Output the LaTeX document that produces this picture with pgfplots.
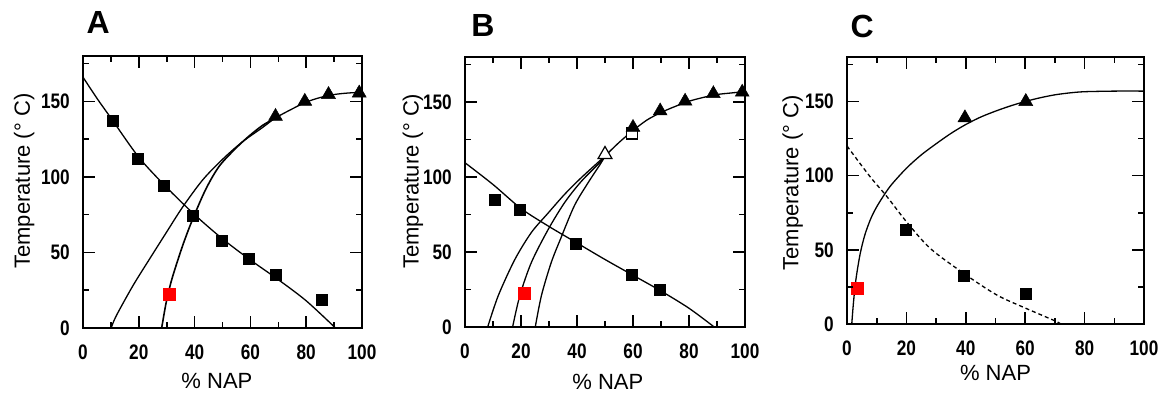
\documentclass[border=0pt]{standalone}
\usepackage{graphicx}
\usepackage{pgfplots}
\pgfplotsset{compat=1.18}
\usepackage{fontspec}
\setmainfont{Liberation Sans}
\newcommand{\tlfont}{\fontsize{21}{21}\selectfont\bfseries}
\newcommand{\lbfont}{\fontsize{22}{24}\selectfont}
\newcommand{\pnfont}{\fontsize{32}{32}\selectfont\bfseries}
\pgfplotsset{
  dataax/.style={
    scale only axis, anchor=south west, hide axis,
    xmin=0, xmax=100, ymin=0, ymax=180,
  },
  panel/.style={
    scale only axis, anchor=south west,
    xmin=0, xmax=100, ymin=0, ymax=180,
    xtick={0,20,...,100}, ytick={0,50,100,150},
    minor xtick={10,30,50,70,90}, minor ytick={25,75,125,175},
    tick align=inside, major tick length=12pt, minor tick length=6pt,
    tick style={black, line width=1.6pt}, axis line style={line width=1.6pt},
    xticklabel={\scalebox{0.82}[1]{\pgfmathprintnumber[assume math mode=true]{\tick}}},
    yticklabel={\scalebox{0.82}[1]{\pgfmathprintnumber[assume math mode=true]{\tick}}},
    ticklabel style={font=\tlfont},
    yticklabel style={inner sep=0pt, anchor=east, xshift=-13pt},
    xticklabel style={inner sep=0pt, anchor=north, yshift=-17pt},
    label style={font=\lbfont},
    xlabel={\% NAP}, ylabel={Temperature (° C)},
    title style={font=\pnfont, anchor=base west},
  },
  mycurve/.style={black, line width=1.3pt, smooth, tension=0.5, no marks},
  mysquare/.style={only marks, mark=square*, mark size=5.5pt, mark options={solid, fill=black, draw=black, line width=0.5pt}},
  mytriangle/.style={only marks, mark=triangle*, mark size=8pt, mark options={solid, fill=black, draw=black, line width=0.5pt}},
  myredsquare/.style={only marks, mark=square*, mark size=6pt, mark options={solid, fill=red, draw=red, line width=0.5pt}},
}
\begin{document}
\begin{tikzpicture}
\useasboundingbox (0pt,0pt) rectangle (1162pt,394pt);
% ---------------- Panel A data
\begin{axis}[dataax, at={(83pt,66pt)}, width=279pt, height=272pt]
\addplot[mycurve] coordinates {(0,166) (5,152) (10,139) (20,113) (30,93) (40,75) (50,59) (60,45) (70,32) (80,18) (90.5,0)};
\addplot[mycurve] coordinates {(10.1,0) (11.9,8) (17.9,28) (23.8,45.5) (29.8,63) (35.7,80) (42.9,98) (50,111.6) (57,123) (64.3,132.6) (69,139) (75,145) (80,149.5) (85,152.5) (90,154.5) (95,155.5) (100,156)};
\addplot[mycurve, line width=1.6pt] coordinates {(28.2,0) (29.8,16.8) (31.5,30) (33.3,41) (36,56) (39.3,72) (44,91.8) (48.8,107) (54.8,119) (59.5,127) (64.3,134) (69,139)};
\addplot[mysquare] coordinates {(10.7,137) (19.6,112) (28.9,94) (39.3,74.5) (49.8,57.5) (59.3,45.5) (69,35) (85.7,19)};
\addplot[mytriangle] coordinates {(69,140) (79.5,150) (88,154.5) (99,155.5)};
\addplot[myredsquare] coordinates {(31,22.3)};
\end{axis}
% ---------------- Panel A frame
\begin{axis}[panel, at={(83pt,66pt)}, width=279pt, height=272pt,
  xlabel style={at={(axis description cs:0.48,-0.224)}, anchor=base},
  ylabel style={at={(axis description cs:-0.211,0.54)}, anchor=center},
  title={A}, title style={at={(axis description cs:0,1.059)}}]
\addplot[draw=none, no marks] coordinates {(0,0) (100,180)};
\end{axis}
% ---------------- Panel B data
\begin{axis}[dataax, at={(465pt,67pt)}, width=280pt, height=270pt]
\addplot[mycurve] coordinates {(0,109.5) (10,95) (20,79) (30,67) (40,56) (50,45) (60,34.5) (70,24) (80,12.5) (89,0)};
\addplot[mycurve] coordinates {(8.1,0) (11.9,21) (17.8,45) (23.7,63) (29.7,76) (35.6,88.5) (41.5,99.5) (48.6,111.6) (50,114)};
\addplot[mycurve] coordinates {(17,0) (19.6,21) (23.7,43) (29.7,65) (35.6,83) (41.5,97) (48.6,110.5) (50,114)};
\addplot[mycurve] coordinates {(25.1,0) (27.3,21) (30.8,43) (34.4,60) (39.1,81) (43.9,96) (48.6,109.4) (50,114)};
\addplot[mycurve] coordinates {(50,114) (55,123) (60,131) (65,138) (70,143) (75,147) (80,150.5) (85,153) (90,155) (95,156) (100,157)};
\addplot[mysquare] coordinates {(10.7,85) (19.6,78) (39.7,55.5) (59.5,35) (69.5,24.5)};
\addplot[only marks, mark=square*, mark size=5.5pt, mark options={solid, fill=white, draw=black, line width=1.2pt}] coordinates {(59.5,129)};
\addplot[mytriangle] coordinates {(60,133) (69.7,144) (78.6,150.5) (88.7,155.5) (99,156.5)};
\addplot[only marks, mark=triangle*, mark size=8pt, mark options={solid, fill=white, draw=black, line width=1.2pt}] coordinates {(50,115)};
\addplot[myredsquare] coordinates {(21,22.5)};
\end{axis}
% ---------------- Panel B frame
\begin{axis}[panel, at={(465pt,67pt)}, width=280pt, height=270pt,
  xlabel style={at={(axis description cs:0.51,-0.23)}, anchor=base},
  ylabel style={at={(axis description cs:-0.186,0.54)}, anchor=center},
  title={B}, title style={at={(axis description cs:0.01,1.052)}}]
\addplot[draw=none, no marks] coordinates {(0,0) (100,180)};
\end{axis}
% ---------------- Panel C data
\begin{axis}[dataax, at={(847pt,70pt)}, width=297pt, height=267pt]
\addplot[mycurve] coordinates {(1.6,0) (2.2,15) (3,30) (4.4,47) (6,60) (8,71) (10,79) (12.5,87) (15,94) (20,105) (25,114) (30,121.5) (35,128.5) (40,134.5) (45,139.5) (50,143.5) (55,147) (60,150) (65,152.5) (70,154.5) (75,155.8) (80,156.6) (90,157) (100,157)};
\addplot[mycurve, dash pattern=on 4pt off 3pt] coordinates {(0,120) (7.7,99.5) (13.4,86) (20,69) (28,51) (39.4,34) (50.4,19.6) (60.2,10.6) (70.6,1.6) (71.7,0)};
\addplot[mysquare] coordinates {(19.75,63.5) (39.4,32.5) (60.2,20.3)};
\addplot[mytriangle] coordinates {(39.7,139) (60.2,150)};
\addplot[myredsquare] coordinates {(3.5,24)};
\end{axis}
% ---------------- Panel C frame
\begin{axis}[panel, at={(847pt,70pt)}, width=297pt, height=267pt,
  xlabel style={at={(axis description cs:0.5,-0.21)}, anchor=base},
  ylabel style={at={(axis description cs:-0.183,0.528)}, anchor=center},
  title={C}, title style={at={(axis description cs:0,1.052)}}]
\addplot[draw=none, no marks] coordinates {(0,0) (100,180)};
\end{axis}
\end{tikzpicture}
\end{document}
